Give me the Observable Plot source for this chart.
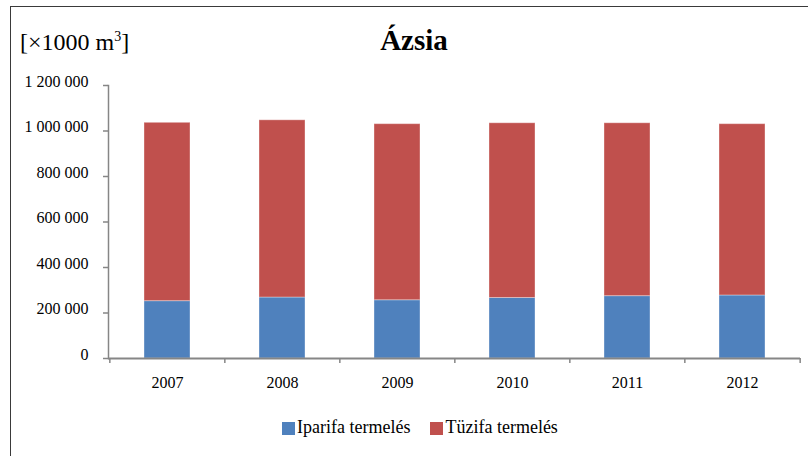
<!DOCTYPE html>
<html>
<head>
<meta charset="utf-8">
<script src="https://cdn.jsdelivr.net/npm/d3@7"></script>
<script src="https://cdn.jsdelivr.net/npm/@observablehq/plot@0.6"></script>
<style>
  html, body { margin: 0; padding: 0; background: #fff; }
  #wrap { position: relative; width: 808px; height: 456px; overflow: hidden; font-family: "Liberation Serif", "DejaVu Serif", serif; color: #000; }
  #border { position: absolute; left: 10px; top: 6px; width: 900px; height: 600px; border-left: 1.5px solid #3a3a3a; border-top: 1.5px solid #3a3a3a; }
  #unit { position: absolute; left: 20px; top: 30px; font-size: 24px; line-height: 24px; white-space: nowrap; }
  #unit sup { font-size: 14px; vertical-align: 9px; line-height: 0; }
  #title { position: absolute; left: 0; width: 828px; top: 26px; text-align: center; font-size: 29px; line-height: 29px; font-weight: bold; }
  #chart { position: absolute; left: 0; top: 0; }
  #legend { position: absolute; left: 282px; top: 418px; display: flex; align-items: center; font-size: 18px; line-height: 18px; white-space: nowrap; }
  #legend .item { display: flex; align-items: center; margin-right: 20px; }
  #legend .sw { width: 13px; height: 13px; margin-right: 2px; margin-top: 2px; }
</style>
</head>
<body>
<div id="wrap">
  <div id="border"></div>
  <div id="chart"></div>
  <div id="unit">[×1000 m<sup>3</sup>]</div>
  <div id="title">Ázsia</div>
  <div id="legend"></div>
</div>
<script>
// ---- data ----
const years = ["2007", "2008", "2009", "2010", "2011", "2012"];
const seriesNames = ["Iparifa termelés", "Tüzifa termelés"];
const seriesColors = ["#4F81BD", "#C0504D"];
const iparifa = [252000, 268000, 256000, 266000, 274000, 277000];
const tuzifa = [784000, 779000, 774000, 768000, 760000, 753000];
const yTicks = [0, 200000, 400000, 600000, 800000, 1000000, 1200000];

const data = [];
years.forEach((y, i) => {
  data.push({year: y, series: seriesNames[0], value: iparifa[i]});
  data.push({year: y, series: seriesNames[1], value: tuzifa[i]});
});

const W = 808, H = 456;
const mL = 108, mR = 8, mT = 85, mB = 98;
const step = (W - mL - mR) / years.length;
const axisGray = "#868686";
const fmt = d3.formatLocale({decimal: ",", thousands: " ", grouping: [3], currency: ["", ""]}).format(",d");

const plot = Plot.plot({
  width: W,
  height: H,
  marginLeft: mL,
  marginRight: mR,
  marginTop: mT,
  marginBottom: mB,
  style: {fontFamily: "'Liberation Serif', 'DejaVu Serif', serif", fontSize: "16px", color: "#000", background: "transparent"},
  x: {domain: years, paddingInner: 0.6, paddingOuter: 0.3, label: null},
  y: {domain: [0, 1200000], label: null},
  color: {domain: seriesNames, range: seriesColors},
  marks: [
    Plot.barY(data, {x: "year", y: "value", fill: "series", order: seriesNames, stroke: "#ffffff", strokeOpacity: 0.35, strokeWidth: 1}),
    // y axis ticks
    Plot.axisY({ticks: yTicks, tickSize: 5, tickFormat: () => "", stroke: axisGray, strokeWidth: 1.5, label: null}),
    // y axis labels
    Plot.axisY({ticks: yTicks, tickSize: 0, tickPadding: 20, dy: -4, tickFormat: fmt, fill: "#000", label: null}),
    // x axis labels
    Plot.axisX({tickSize: 0, tickPadding: 18, fill: "#000", label: null}),
    // x boundary ticks
    Plot.ruleX(years, {x: d => d, dx: -step / 2, y1: 0, y2: 0, insetBottom: -5, stroke: axisGray, strokeWidth: 1.5}),
    Plot.ruleX([years[years.length - 1]], {x: d => d, dx: step / 2, y1: 0, y2: 0, insetBottom: -5, stroke: axisGray, strokeWidth: 1.5}),
    // axis lines
    Plot.frame({anchor: "left", stroke: axisGray, strokeWidth: 1.5}),
    Plot.ruleY([0], {stroke: axisGray, strokeWidth: 2})
  ]
});
document.getElementById("chart").appendChild(plot);

const legend = document.getElementById("legend");
seriesNames.forEach((name, i) => {
  const item = document.createElement("div");
  item.className = "item";
  const sw = document.createElement("div");
  sw.className = "sw";
  sw.style.background = seriesColors[i];
  const t = document.createElement("span");
  t.textContent = name;
  item.appendChild(sw);
  item.appendChild(t);
  legend.appendChild(item);
});
</script>
</body>
</html>
